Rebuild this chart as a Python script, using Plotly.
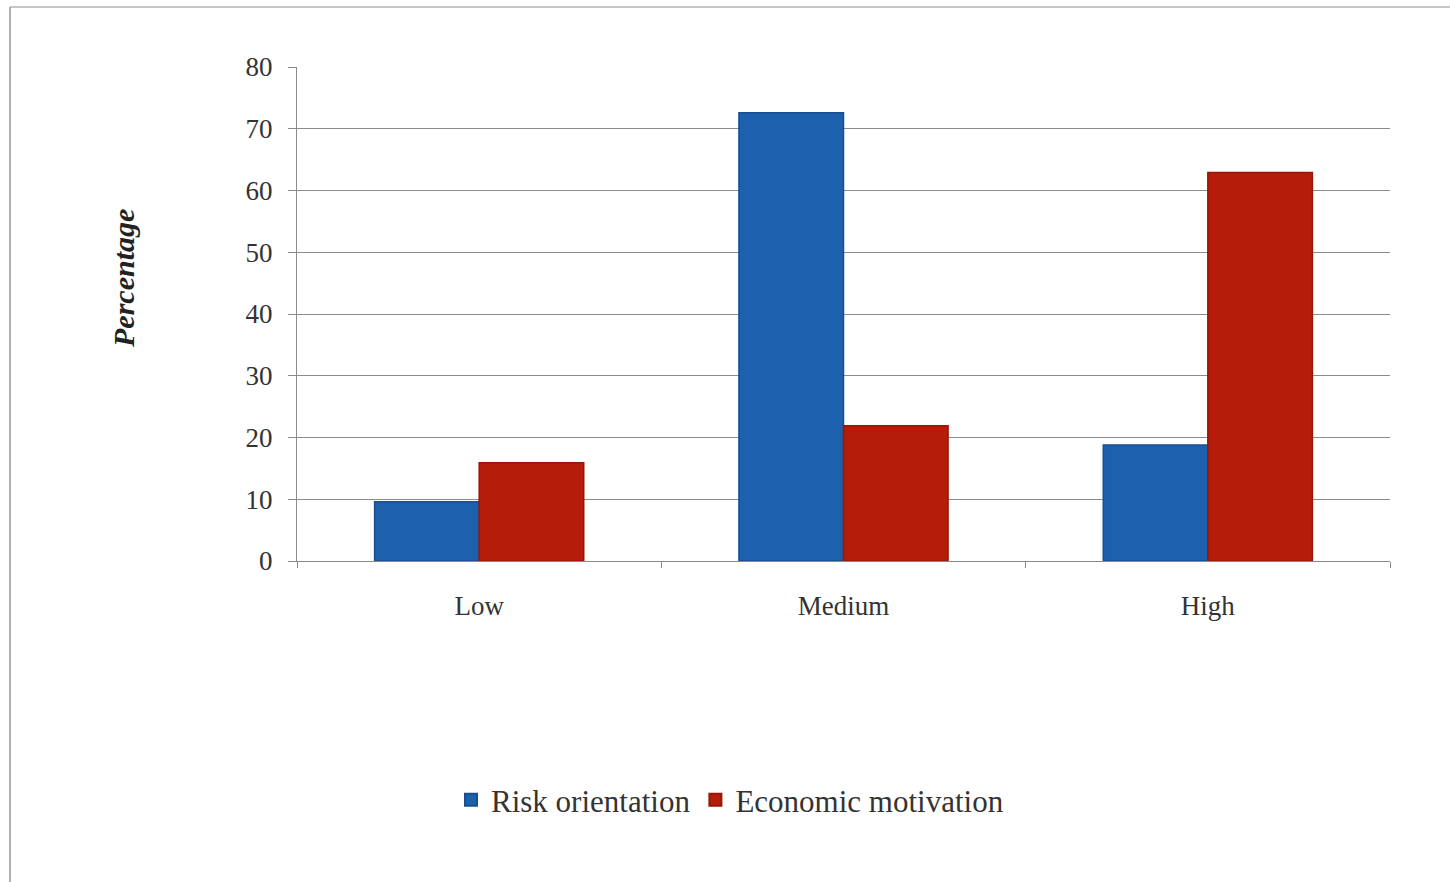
import plotly.graph_objects as go

categories = ["Low", "Medium", "High"]
risk_orientation = [9.6, 72.6, 18.8]
economic_motivation = [15.9, 21.9, 62.9]
y_ticks = [0, 10, 20, 30, 40, 50, 60, 70, 80]

W, H = 1450, 882
L, R, T, B = 297, 60, 67, 321
pw, ph = W - L - R, H - T - B

def px(x):
    return (x - L) / pw

def py(y):
    return (H - B - y) / ph

serif = "Liberation Serif"

fig = go.Figure()
fig.add_trace(go.Bar(
    x=categories, y=risk_orientation, name="Risk orientation",
    marker=dict(color="#1d60ad", line=dict(color="#184f90", width=1.5)),
))
fig.add_trace(go.Bar(
    x=categories, y=economic_motivation, name="Economic motivation",
    marker=dict(color="#b51c09", line=dict(color="#961707", width=1.5)),
))

fig.update_layout(
    width=W, height=H,
    margin=dict(l=L, r=R, t=T, b=B, pad=0),
    paper_bgcolor="white", plot_bgcolor="white",
    barmode="group", bargap=0.426, bargroupgap=0,
    font=dict(family=serif, color="#333333", size=24),
    showlegend=True,
    legend=dict(
        orientation="h", x=px(730), y=py(800), xanchor="center", yanchor="middle",
        font=dict(family=serif, size=31, color="#333333"),
        itemwidth=30, traceorder="normal", itemsizing="constant",
    ),
    xaxis=dict(
        type="category", showgrid=False, showline=True, linecolor="#8a8a8a", linewidth=1,
        ticks="outside", tickson="boundaries", ticklen=6, tickcolor="#8a8a8a",
        tickfont=dict(family=serif, size=27, color="#333333"),
        ticklabelstandoff=21,
    ),
    yaxis=dict(
        range=[0, 80], tickvals=y_ticks, showgrid=True, gridcolor="#8c8c8c", gridwidth=1,
        showline=True, linecolor="#8a8a8a", linewidth=1, zeroline=False,
        ticks="outside", ticklen=8, tickcolor="#8a8a8a",
        tickfont=dict(family=serif, size=27, color="#333333"),
        ticklabelstandoff=10,
    ),
    annotations=[dict(
        text="<b><i>Percentage</i></b>", xref="paper", yref="paper",
        x=px(123), y=py(279), textangle=-90, showarrow=False,
        font=dict(family=serif, size=30, color="#222222"),
        xanchor="center", yanchor="middle",
    )],
    shapes=[
        dict(type="line", xref="paper", yref="paper", x0=px(10), x1=px(1450), y0=py(7), y1=py(7),
             line=dict(color="#b5b5b5", width=1.5)),
        dict(type="line", xref="paper", yref="paper", x0=px(10), x1=px(10), y0=py(7), y1=py(882),
             line=dict(color="#9a9a9a", width=1.5)),
    ],
)

fig.write_html("out.html")
